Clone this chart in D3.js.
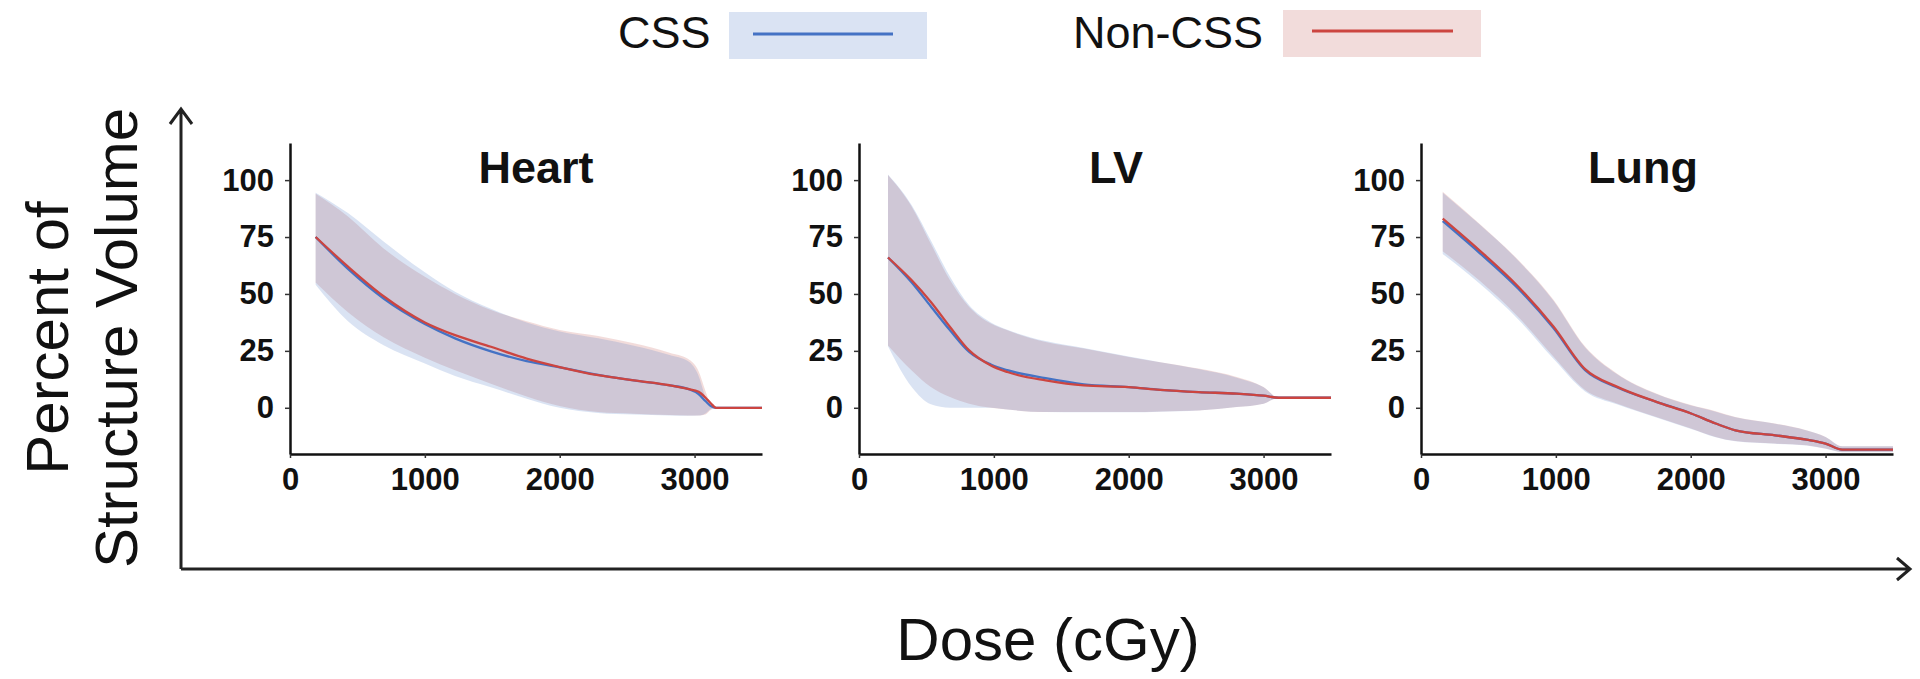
<!DOCTYPE html>
<html><head><meta charset="utf-8">
<script src="https://cdn.jsdelivr.net/npm/d3@7"></script>
<style>html,body{margin:0;padding:0;background:#fff;} svg{display:block;}</style>
</head><body>
<svg id="chart" width="1920" height="679"></svg>
<script>
// ---------------- DATA ----------------
const panelNames = ["Heart", "LV", "Lung"];
const legendLabels = ["CSS", "Non-CSS"];
const xTicks = [0, 1000, 2000, 3000];
const yTicks = [0, 25, 50, 75, 100];
const xAxisTitle = "Dose (cGy)";
const yAxisTitleLines = ["Percent of", "Structure Volume"];

// Heart
const heartDose    = [190, 430, 694, 1000, 1224, 1490, 1755, 2000, 2285, 2550, 2815, 2950, 3030, 3080, 3120, 3160, 3500];
const heartCssMean = [75, 61, 48, 36.8, 30.5, 24.8, 20.5, 17.8, 14.5, 12, 9.8, 8.3, 6, 3, 0.8, 0, 0];
const heartCssLo   = [54, 38, 27.5, 19.5, 14, 9, 4, 0, -2.3, -3, -3.4, -3.5, -3.4, -2.5, -0.5, 0, 0];
const heartCssHi   = [94.5, 85.5, 73, 59.5, 51, 43.5, 37.5, 33.5, 30.5, 27.3, 23.2, 20.5, 14, 5, 0.8, 0, 0];
const heartNonMean = [75, 62, 49, 37.5, 31.9, 26.8, 21.6, 17.9, 14.3, 12, 9.9, 8.3, 7, 4.5, 2, 0, 0];
const heartNonLo   = [55, 42, 31, 22, 16.5, 10.6, 5, 0.8, -1.9, -2.6, -3.2, -3.4, -3.4, -3, -1, 0, 0];
const heartNonHi   = [94, 84, 70, 57.5, 50, 43, 38, 34.2, 31.5, 28.3, 24.2, 21.5, 16, 7.5, 1.5, 0, 0];

// LV
const lvDose    = [215, 391, 533, 675, 817, 978, 1100, 1384, 1667, 2000, 2234, 2518, 2801, 3000, 3113, 3500];
const lvCssMean = [66, 55, 44.5, 34, 24.5, 19, 16.5, 13, 10.3, 9.1, 7.9, 6.9, 6.2, 5.3, 4.4, 4.4];
const lvCssLo   = [27, 9.1, 1.5, 0, 0, 0, -0.8, -1.9, -2, -2, -1.7, -1.2, 0.3, 1.8, 4.4, 4.4];
const lvCssHi   = [102.5, 89, 73.5, 57.5, 45, 37.5, 34.3, 29.3, 26.3, 22.5, 20, 17, 13.2, 9, 4.4, 4.4];
const lvNonMean = [66, 56, 46.5, 35.5, 25.2, 18.6, 15.7, 12, 9.8, 9.1, 7.9, 6.9, 6.2, 5.3, 4.4, 4.4];
const lvNonLo   = [27.4, 16.4, 9.1, 4.7, 1.8, 0, -0.8, -1.9, -1.9, -1.9, -1.6, -1.2, 0.3, 1.8, 4.4, 4.4];
const lvNonHi   = [102.2, 88.3, 72, 56, 44.3, 37, 34, 28.9, 26, 22.3, 20, 17.2, 13.5, 9.1, 4.4, 4.4];

// Lung
const lungDose    = [161, 425, 718, 982, 1217, 1452, 1745, 2003, 2185, 2331, 2625, 2859, 3000, 3123, 3500];
const lungCssMean = [82, 68.5, 52.5, 35, 16.5, 9, 2.6, -2.5, -6.9, -9.9, -12.1, -14, -15.7, -18.4, -18.4];
const lungCssLo   = [67.5, 55, 39, 21.5, 7.2, 1.5, -4.3, -9.3, -12.9, -14.7, -15.8, -16.6, -18, -19.5, -19.5];
const lungCssHi   = [94.5, 81, 64.8, 47, 26.5, 14.8, 6, 1, -1.7, -4.2, -7, -10, -12.8, -16.9, -16.9];
const lungNonMean = [83.1, 69.6, 53.4, 35.7, 17, 9.3, 2.6, -2.5, -6.9, -9.9, -12.1, -14, -15.7, -18.4, -18.4];
const lungNonLo   = [68.8, 56.3, 40.1, 22.5, 7.8, 1.9, -4, -9.1, -12.8, -14.6, -15.7, -16.5, -17.9, -19.4, -19.4];
const lungNonHi   = [94.9, 81.3, 65.1, 47.5, 26.9, 15.1, 6.3, 1.2, -1.5, -4, -6.9, -9.9, -12.8, -16.9, -16.9];

// ---------------- BUILD ----------------
function series(dose, mean, lo, hi) {
  return dose.map((d, i) => ({ dose: d, mean: mean[i], lo: lo[i], hi: hi[i] }));
}
const panels = [
  { name: panelNames[0], css: series(heartDose, heartCssMean, heartCssLo, heartCssHi), non: series(heartDose, heartNonMean, heartNonLo, heartNonHi) },
  { name: panelNames[1], css: series(lvDose, lvCssMean, lvCssLo, lvCssHi), non: series(lvDose, lvNonMean, lvNonLo, lvNonHi) },
  { name: panelNames[2], css: series(lungDose, lungCssMean, lungCssLo, lungCssHi), non: series(lungDose, lungNonMean, lungNonLo, lungNonHi) }
];

// ---------------- LAYOUT / STYLE ----------------
const FONT = "'Liberation Sans', Arial, Helvetica, sans-serif";
const cssLine = "#4472c4", nonLine = "#cc4540";
const cssFill = "#4472c4", nonFill = "#c0504d", fillOpacity = 0.2;
const panelLeft = [290, 859, 1421];
const panelWidth = 472;
const plotTop = 143, plotBottom = 454;
const titleX = [536, 1116, 1643];

const svg = d3.select("#chart");

const y = d3.scaleLinear().domain([-20.3, 116.3]).range([plotBottom, plotTop]);

panels.forEach((p, i) => {
  const x = d3.scaleLinear().domain([0, 3500]).range([panelLeft[i], panelLeft[i] + panelWidth]);
  const g = svg.append("g");

  const area = d3.area().curve(d3.curveMonotoneX)
    .x(d => x(d.dose)).y0(d => y(d.lo)).y1(d => y(d.hi));
  const line = d3.line().curve(d3.curveMonotoneX)
    .x(d => x(d.dose)).y(d => y(d.mean));

  g.append("path").datum(p.non).attr("d", area).attr("fill", nonFill).attr("fill-opacity", fillOpacity);
  g.append("path").datum(p.css).attr("d", area).attr("fill", cssFill).attr("fill-opacity", fillOpacity);
  g.append("path").datum(p.css).attr("d", line).attr("fill", "none").attr("stroke", cssLine).attr("stroke-width", 2.3);
  g.append("path").datum(p.non).attr("d", line).attr("fill", "none").attr("stroke", nonLine).attr("stroke-width", 2.3);

  // axes
  const ya = g.append("g").attr("transform", `translate(${panelLeft[i]},0)`)
    .call(d3.axisLeft(y).tickValues(yTicks).tickSize(5).tickSizeOuter(0).tickPadding(11));
  const xa = g.append("g").attr("transform", `translate(0,${plotBottom})`)
    .call(d3.axisBottom(x).tickValues(xTicks).tickSize(4).tickSizeOuter(0).tickFormat(d3.format("d")));
  [ya, xa].forEach(a => {
    a.attr("font-family", FONT).attr("font-size", 31).attr("font-weight", "bold");
    a.select(".domain").attr("stroke", "#111").attr("stroke-width", 2.5);
    a.selectAll(".tick line").attr("stroke", "#333").attr("stroke-width", 1.5);
    a.selectAll(".tick text").attr("fill", "#111");
  });
  xa.selectAll(".tick text").attr("y", 36).attr("dy", 0);

  g.append("text").attr("x", titleX[i]).attr("y", 183)
    .attr("text-anchor", "middle").attr("font-family", FONT)
    .attr("font-size", 45).attr("font-weight", "bold").attr("fill", "#111")
    .text(p.name);
});

// big outer axes with arrows
const ax = svg.append("g").attr("stroke", "#222").attr("stroke-width", 3).attr("fill", "none");
const ox = 181, oy = 569, topY = 109, rightX = 1910;
ax.append("path").attr("d", `M${ox},${oy} L${ox},${topY} M${ox - 11},${topY + 15} L${ox},${topY} L${ox + 11},${topY + 15}`);
ax.append("path").attr("d", `M${ox},${oy} L${rightX},${oy} M${rightX - 13},${oy - 11} L${rightX},${oy} L${rightX - 13},${oy + 11}`);

svg.append("text").attr("x", 1048).attr("y", 660).attr("text-anchor", "middle")
  .attr("font-family", FONT).attr("font-size", 60).attr("fill", "#111").text(xAxisTitle);

[68, 137].forEach((bx, k) => {
  svg.append("text").attr("transform", `translate(${bx},338) rotate(-90)`)
    .attr("text-anchor", "middle").attr("font-family", FONT).attr("font-size", 60)
    .attr("fill", "#111").text(yAxisTitleLines[k]);
});

// legend
const legend = [
  { label: legendLabels[0], tx: 618, rx: 729, ry: 12, lx0: 753, lx1: 893, ly: 34, fill: cssFill, stroke: cssLine },
  { label: legendLabels[1], tx: 1073, rx: 1283, ry: 10, lx0: 1312, lx1: 1453, ly: 31, fill: nonFill, stroke: nonLine }
];
legend.forEach(l => {
  svg.append("text").attr("x", l.tx).attr("y", 48).attr("font-family", FONT)
    .attr("font-size", 45).attr("fill", "#111").text(l.label);
  svg.append("rect").attr("x", l.rx).attr("y", l.ry).attr("width", 198).attr("height", 47)
    .attr("fill", l.fill).attr("fill-opacity", fillOpacity);
  svg.append("line").attr("x1", l.lx0).attr("x2", l.lx1).attr("y1", l.ly).attr("y2", l.ly)
    .attr("stroke", l.stroke).attr("stroke-width", 3);
});
</script>
</body></html>
